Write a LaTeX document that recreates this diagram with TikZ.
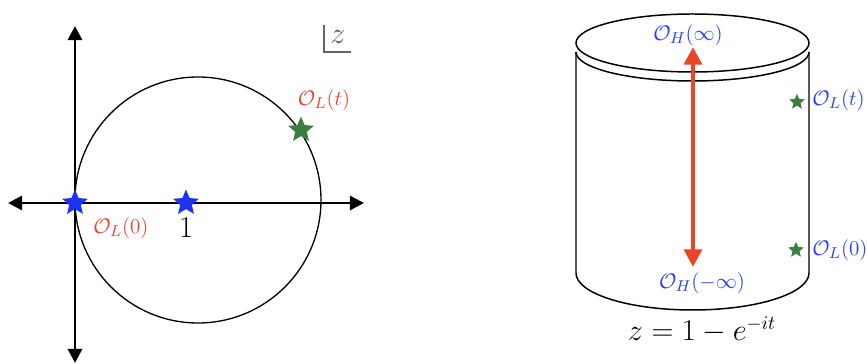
\documentclass[tikz,border=0pt]{standalone}
\usetikzlibrary{arrows.meta,shapes.geometric}
\definecolor{starblue}{RGB}{30,50,245}
\definecolor{labred}{RGB}{232,67,42}
\definecolor{labblue}{RGB}{35,60,250}
\definecolor{stargreen}{RGB}{62,125,66}
\definecolor{arrowred}{RGB}{235,70,40}

\begin{document}
\begin{tikzpicture}[x=0.02cm, y=-0.02cm,
    every node/.style={font=\fontsize{13}{15}\selectfont},
    big/.style={font=\fontsize{16}{18}\selectfont},
    axis/.style={line width=1.6pt, {Triangle[length=8pt,width=8pt]}-{Triangle[length=8pt,width=8pt]}},
    bigstar/.style={star, star points=5, star point ratio=2.2, fill=#1, minimum size=0.54cm, inner sep=0pt},
    smallstar/.style={star, star points=5, star point ratio=2.2, fill=stargreen, minimum size=0.33cm, inner sep=0pt},
    redlab/.style={text=labred},
    bluelab/.style={text=labblue},
    cyl/.style={line width=0.85pt},
    flow/.style={line width=2.6pt, draw=arrowred, {Triangle[length=10pt,width=10pt]}-{Triangle[length=10pt,width=10pt]}}
]
\useasboundingbox (0,0) rectangle (867,364);

% z-plane
\coordinate (xl) at (8,203);
\coordinate (xr) at (364,203);
\coordinate (yt) at (75,26);
\coordinate (yb) at (75,363);
\draw[axis] (xl) -- (xr);
\draw[axis] (yb) -- (yt);
\draw[line width=0.75pt] (198,200) circle[radius=123];
\draw[black!60, line width=0.6pt] (324,25) |- (351,52);
\node[text=black!65, font=\fontsize{17}{19}\selectfont] (zl) at (338,37) {$z$};

\node[bigstar=starblue] (s0) at (75,203) {};
\node[bigstar=starblue] (s1) at (186,203) {};
\node[bigstar=stargreen] (st) at (301,130) {};
\node[redlab] (l0) at (121,228) {$\mathcal{O}_L(0)$};
\node[big] (one) at (186,228) {$1$};
\node[redlab] (lt) at (324,100) {$\mathcal{O}_L(t)$};

% cylinder
\draw[cyl] (692.5,43) ellipse[x radius=116.5, y radius=29];
\draw[cyl] (576,52) arc[start angle=180, end angle=0, x radius=116.5, y radius=29];
\draw[cyl] (576,52) -- (576,273) arc[start angle=180, end angle=0, x radius=116.5, y radius=37] -- (809,52);

\coordinate (ftop) at (693,47);
\coordinate (fbot) at (693,267);
\draw[flow] (fbot) -- (ftop);

\node[bluelab] (hinf) at (688,35) {$\mathcal{O}_H(\infty)$};
\node[bluelab] (hminf) at (702,283) {$\mathcal{O}_H(-\infty)$};
\node[smallstar] (rt) at (797,102) {};
\node[smallstar] (r0) at (796,250) {};
\node[bluelab, anchor=west, inner sep=0pt] (rlt) at (812,100) {$\mathcal{O}_L(t)$};
\node[bluelab, anchor=west, inner sep=0pt] (rl0) at (812,250) {$\mathcal{O}_L(0)$};
\node[big] (map) at (702,330) {$z=1-e^{-it}$};

\end{tikzpicture}
\end{document}
